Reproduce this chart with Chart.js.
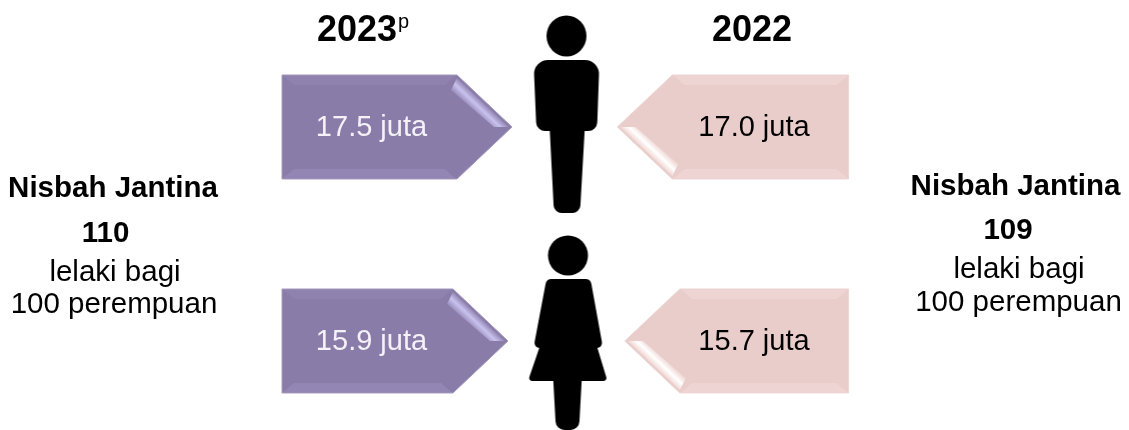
<!DOCTYPE html>
<html>
<head>
<meta charset="utf-8">
<style>html,body{margin:0;padding:0;background:#fff}canvas{display:block}</style>
<script src="https://cdn.jsdelivr.net/npm/chart.js@4/dist/chart.umd.js"></script>
</head>
<body>
<canvas id="c" width="1129" height="430"></canvas>
<script>
const categories = ['Lelaki', 'Perempuan'];
const rowIndex = [0, 1];
const years = ['2023', '2022'];
const provisionalMark = 'p';
const values2023 = [17.5, 15.9];
const values2022 = [17.0, 15.7];
const unit = 'juta';
const ratioTitle = 'Nisbah Jantina';
const ratios = [110, 109];
const ratioLines = ['lelaki bagi', '100 perempuan'];

const FONT = '"Liberation Sans", Arial, sans-serif';

class ArrowElement extends Chart.BarElement {
  static id = 'arrowBar';
  static defaults = { highlightA: '#fff', highlightB: '#fff', highlightC: '#fff', bandTop: '#fff', bandBottom: '#fff', edge: '#fff', highlightLower: false };
  draw(ctx) {
    const o = this.options;
    const tip = this.x, base = this.base, h = this.height, yc = this.y;
    const dir = tip > base ? 1 : -1;
    const head = 55 * dir, top = yc - h / 2, bot = yc + h / 2, sh = tip - head;
    ctx.save();
    ctx.beginPath();
    ctx.moveTo(base, top); ctx.lineTo(sh, top); ctx.lineTo(tip, yc); ctx.lineTo(sh, bot); ctx.lineTo(base, bot);
    ctx.closePath();
    ctx.fillStyle = o.backgroundColor;
    ctx.fill();
    ctx.strokeStyle = o.edge; ctx.lineWidth = 1; ctx.stroke();
    const inset = 10;
    const poly = (pts, fill) => {
      ctx.beginPath();
      pts.forEach((p, i) => i ? ctx.lineTo(p[0], p[1]) : ctx.moveTo(p[0], p[1]));
      ctx.closePath(); ctx.fillStyle = fill; ctx.fill();
    };
    poly([[base + dir, top + 1], [sh - 2 * dir, top + 1], [sh - 12 * dir, top + inset], [base + 12 * dir, top + inset]], o.bandTop);
    poly([[base + dir, bot - 1], [sh - 2 * dir, bot - 1], [sh - 12 * dir, bot - inset], [base + 12 * dir, bot - inset]], o.bandBottom);
    // glossy fold along one diagonal of the head; the gradient runs across the fold
    const vs = o.highlightLower ? -1 : 1;
    const sy = yc - vs * (h / 2 - 3);
    const ox = sh + 1 * dir, oy = sy;
    const g = ctx.createLinearGradient(ox, oy, ox - 9 * dir, oy + 9.5 * vs);
    g.addColorStop(0, o.highlightA); g.addColorStop(0.5, o.highlightB); g.addColorStop(1, o.highlightC);
    poly([[sh, sy], [tip - 3 * dir, yc], [tip - 18 * dir, yc], [sh - 6 * dir, sy + 12 * vs]], g);
    ctx.restore();
  }
}
class ArrowController extends Chart.BarController {
  static id = 'arrowBar';
  static defaults = { ...Chart.BarController.defaults, dataElementType: 'arrowBar' };
  static overrides = Chart.BarController.overrides;
}
Chart.register(ArrowElement, ArrowController);

// figure icons: each image is centred on its data point
function icon(yc, paint) {
  const c = document.createElement('canvas');
  c.width = 100; c.height = 230;
  const x = c.getContext('2d');
  x.translate(-(564.5 - 50), -(yc - 115));
  x.fillStyle = '#000';
  paint(x);
  return c;
}
const round = (x, pts, r) => {
  x.beginPath();
  const n = pts.length;
  x.moveTo((pts[n - 1][0] + pts[0][0]) / 2, (pts[n - 1][1] + pts[0][1]) / 2);
  for (let i = 0; i < n; i++) {
    const p = pts[i], q = pts[(i + 1) % n];
    x.arcTo(p[0], p[1], q[0], q[1], p[2] !== undefined ? p[2] : r);
  }
  x.closePath(); x.fill();
};
const manIcon = icon(127, x => {
  x.beginPath(); x.ellipse(566.5, 36, 20, 20.5, 0, 0, Math.PI * 2); x.fill();
  round(x, [[533.5, 60, 14], [599.5, 60, 14], [597, 131, 9], [536.5, 131, 9]]);
  round(x, [[549.5, 125, 0.1], [585, 125, 0.1], [580, 213, 8], [554, 213, 8]]);
});
const womanIcon = icon(341, x => {
  x.beginPath(); x.ellipse(568, 255.5, 20, 20, 0, 0, Math.PI * 2); x.fill();
  round(x, [[546.5, 279, 6], [590.5, 279, 6], [603, 348, 5], [533.5, 348, 5]]);
  round(x, [[542, 340, 0.1], [595, 340, 0.1], [607.5, 381, 3], [528, 381, 3]]);
  round(x, [[553, 375, 0.1], [582, 375, 0.1], [579, 430, 9], [556, 430, 9]]);
});

const textPlugin = {
  id: 'texts',
  afterDraw(chart) {
    const { ctx } = chart;
    const put = (t, x, y, font, color, align) => {
      ctx.font = font + ' ' + FONT;
      ctx.fillStyle = color || '#000';
      ctx.textAlign = align || 'center';
      ctx.textBaseline = 'alphabetic';
      ctx.fillText(t, x, y);
    };
    ctx.save();
    put(years[0], 357, 41, 'bold 36px');
    put(provisionalMark, 398, 28, '20px', '#000', 'left');
    put(years[1], 752, 41, 'bold 36px');
    [0, 1].forEach(d => {
      const meta = chart.getDatasetMeta(d);
      const vals = d === 0 ? values2023 : values2022;
      meta.data.forEach((el, i) => {
        const cx = d === 0 ? 371.5 : 754;
        put(vals[i].toFixed(1) + ' ' + unit, cx, el.y + 9.5, '29px', d === 0 ? '#f4f2f8' : '#000');
      });
    });
    // title x, number x, line 1 x, line 2 x, then the four baselines
    const side = [[113, 105.5, 115, 114, 197, 242, 281, 313], [1015.5, 1008, 1019, 1018.5, 195, 239, 278, 311]];
    side.forEach((s, i) => {
      put(ratioTitle, s[0], s[4], 'bold 29.5px');
      put(String(ratios[i]), s[1], s[5], 'bold 29.5px');
      put(ratioLines[0], s[2], s[6], '29.5px');
      put(ratioLines[1], s[3], s[7], '29.5px');
    });
    ctx.restore();
  }
};

const rows = vals => vals.map((v, i) => ({ x: v, y: rowIndex[i] }));

new Chart(document.getElementById('c'), {
  data: {
    labels: categories,
    datasets: [
      {
        type: 'arrowBar', label: years[0], data: rows(values2023), xAxisID: 'xL', yAxisID: 'y',
        base: -74.5, grouped: false, barThickness: 104,
        backgroundColor: '#8a7ca8', edge: '#a99dc0',
        bandTop: '#8f82ae', bandBottom: '#9486b4',
        highlightA: '#8f81ae', highlightB: '#c9c2ee', highlightC: '#9a8fbf', highlightLower: false
      },
      {
        type: 'arrowBar', label: years[1], data: rows(values2022), xAxisID: 'xR', yAxisID: 'y',
        base: -23.1, grouped: false, barThickness: 104,
        backgroundColor: '#e9cdcb', edge: '#eed8d6',
        bandTop: '#eed4d2', bandBottom: '#eed4d2',
        highlightA: '#f0d6d3', highlightB: '#ffffff', highlightC: '#f0d6d3', highlightLower: true
      },
      {
        type: 'scatter', label: 'Ikon', data: rows([0, 0]), xAxisID: 'xC', yAxisID: 'y',
        pointStyle: [manIcon, womanIcon], pointRadius: 5, clip: false
      }
    ]
  },
  options: {
    responsive: false,
    animation: false,
    indexAxis: 'y',
    layout: { padding: 0, autoPadding: false },
    events: [],
    scales: {
      xL: { type: 'linear', axis: 'x', display: false, min: -187.3, max: 264.3 },
      xR: { type: 'linear', axis: 'x', display: false, min: -71.7, max: 124, reverse: true },
      xC: { type: 'linear', axis: 'x', display: false, min: -1, max: 1 },
      y: { type: 'linear', axis: 'y', display: false, offset: false, min: -0.5935, max: 1.416, reverse: true }
    },
    plugins: { legend: { display: false }, title: { display: false }, tooltip: { enabled: false } }
  },
  plugins: [textPlugin]
});
</script>
</body>
</html>
